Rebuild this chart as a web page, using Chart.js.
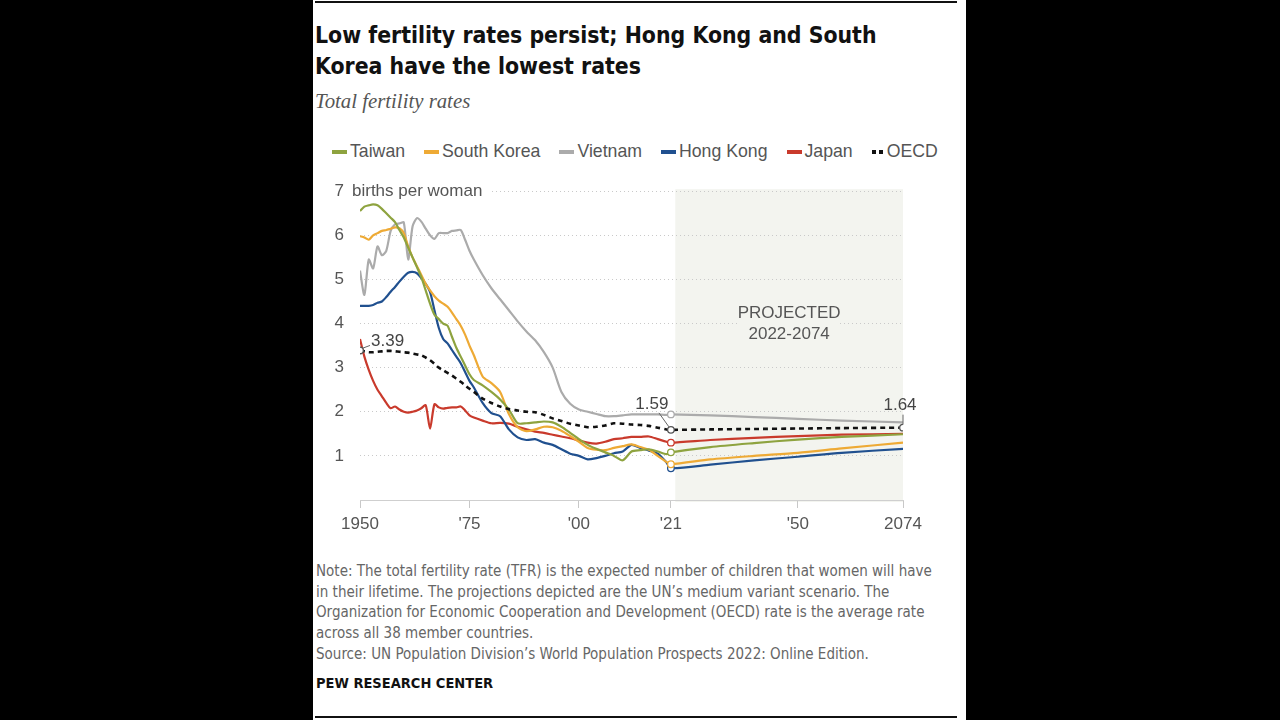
<!DOCTYPE html>
<html>
<head>
<meta charset="utf-8">
<script src="https://cdn.jsdelivr.net/npm/chart.js@4.4.1/dist/chart.umd.min.js"></script>
<style>
  html, body { margin: 0; padding: 0; background: #000; }
  body { width: 1280px; height: 720px; position: relative; overflow: hidden; font-family: "Liberation Sans", Arial, sans-serif; }
  #panel { position: absolute; left: 313px; top: 0; width: 653px; height: 720px; background: #fff; }
  .rule { position: absolute; left: 2px; width: 642px; height: 2px; background: #111; }
  #title { position: absolute; left: 2px; top: 20px; width: 640px; font-family: "DejaVu Sans Condensed", sans-serif; font-weight: bold; font-size: 22.8px; line-height: 31px; color: #111; }
  #subtitle { position: absolute; left: 2px; top: 89px; font-family: "Liberation Serif", "DejaVu Serif", serif; font-style: italic; font-size: 20.8px; color: #555; }
  #legend { position: absolute; left: 19px; top: 141px; display: flex; gap: 19px; font-size: 17.7px; color: #555; }
  .item { display: flex; align-items: center; }
  .sw { width: 15px; height: 4px; margin-right: 3px; }
  .dots { display: flex; gap: 3px; margin-right: 4px; }
  .dots span { width: 4px; height: 4px; background: #111; display: block; }
  #chartBox { position: absolute; left: 2px; top: 165px; width: 645px; height: 382px; }
  #note { position: absolute; left: 3px; top: 561px; width: 628px; font-family: "DejaVu Sans Condensed", sans-serif; font-size: 15px; line-height: 20.7px; color: #666; }
  #pew { position: absolute; left: 3px; top: 675px; font-family: "DejaVu Sans Condensed", sans-serif; font-weight: bold; font-size: 14.5px; color: #111; }
</style>
</head>
<body>
<div id="panel">
  <div class="rule" style="top:1px"></div>
  <div id="title">Low fertility rates persist; Hong Kong and South<br>Korea have the lowest rates</div>
  <div id="subtitle">Total fertility rates</div>
  <div id="legend"></div>
  <div id="chartBox"><canvas id="tfrChart"></canvas></div>
  <div id="note">Note: The total fertility rate (TFR) is the expected number of children that women will have in their lifetime. The projections depicted are the UN’s medium variant scenario. The Organization for Economic Cooperation and Development (OECD) rate is the average rate across all 38 member countries.<br>Source: UN Population Division’s World Population Prospects 2022: Online Edition.</div>
  <div id="pew">PEW RESEARCH CENTER</div>
  <div class="rule" style="top:716px"></div>
</div>
<script>
// years: annual to 1976, every two years to 2020, then 2021 and projections
const years = [1950, 1951, 1952, 1953, 1954, 1955, 1956, 1957, 1958, 1959, 1960, 1961, 1962, 1963, 1964, 1965, 1966, 1967, 1968, 1969, 1970, 1971, 1972, 1973, 1974, 1975, 1976,
  1978, 1980, 1982, 1984, 1986, 1988, 1990, 1992, 1994, 1996, 1998, 2000, 2002, 2004, 2006, 2008, 2010, 2012, 2014, 2016, 2018, 2020,
  2021, 2030, 2040, 2050, 2060, 2074];

const taiwan = [6.55, 6.65, 6.68, 6.7, 6.68, 6.6, 6.5, 6.4, 6.3, 6.12, 5.95, 5.72, 5.5, 5.28, 5.05, 4.75, 4.45, 4.2, 4.1, 4.0, 3.95, 3.7, 3.45, 3.25, 3.05, 2.85, 2.72,
  2.6, 2.45, 2.28, 2.05, 1.74, 1.74, 1.76, 1.78, 1.76, 1.66, 1.52, 1.38, 1.25, 1.16, 1.08, 1.0, 0.9, 1.1, 1.13, 1.15, 1.1, 1.04,
  1.08, 1.2, 1.29, 1.37, 1.43, 1.49];
const southKorea = [5.98, 5.95, 5.9, 6.0, 6.05, 6.1, 6.12, 6.15, 6.18, 6.16, 6.05, 5.75, 5.5, 5.3, 5.1, 4.9, 4.75, 4.62, 4.52, 4.45, 4.38, 4.25, 4.1, 3.95, 3.75, 3.5, 3.28,
  2.8, 2.65, 2.45, 1.95, 1.65, 1.56, 1.6, 1.66, 1.65, 1.57, 1.45, 1.32, 1.18, 1.14, 1.13, 1.18, 1.22, 1.26, 1.2, 1.14, 1.0, 0.86,
  0.81, 0.92, 1.0, 1.07, 1.17, 1.3];
const vietnam = [5.2, 4.65, 5.45, 5.25, 5.75, 5.55, 5.65, 6.1, 6.25, 6.27, 6.29, 5.45, 6.2, 6.39, 6.31, 6.15, 6.0, 5.92, 6.05, 6.05, 6.05, 6.1, 6.11, 6.12, 5.9, 5.65, 5.45,
  5.1, 4.8, 4.55, 4.3, 4.05, 3.82, 3.62, 3.35, 3.0, 2.45, 2.18, 2.05, 2.0, 1.95, 1.9, 1.9, 1.92, 1.94, 1.94, 1.94, 1.94, 1.93,
  1.94, 1.92, 1.88, 1.84, 1.8, 1.76];
const hongKong = [4.4, 4.4, 4.4, 4.42, 4.47, 4.5, 4.6, 4.72, 4.83, 4.95, 5.06, 5.15, 5.17, 5.14, 5.03, 4.9, 4.72, 4.3, 3.9, 3.65, 3.55, 3.4, 3.25, 3.1, 2.9, 2.7, 2.55,
  2.2, 1.97, 1.9, 1.6, 1.42, 1.36, 1.38, 1.3, 1.25, 1.15, 1.05, 1.0, 0.92, 0.95, 1.0, 1.06, 1.1, 1.25, 1.18, 1.12, 1.05, 0.85,
  0.72, 0.8, 0.9, 0.98, 1.07, 1.16];
const japan = [3.65, 3.25, 2.95, 2.7, 2.5, 2.35, 2.2, 2.08, 2.12, 2.05, 2.0, 1.98, 2.0, 2.03, 2.08, 2.15, 1.62, 2.17, 2.1, 2.07, 2.09, 2.1, 2.1, 2.12, 2.03, 1.92, 1.87,
  1.8, 1.74, 1.75, 1.73, 1.66, 1.6, 1.55, 1.52, 1.48, 1.44, 1.4, 1.35, 1.3, 1.28, 1.32, 1.38, 1.4, 1.43, 1.43, 1.44, 1.38, 1.32,
  1.3, 1.36, 1.41, 1.45, 1.48, 1.5];
const oecd = [3.39, 3.37, 3.35, 3.35, 3.36, 3.37, 3.38, 3.38, 3.37, 3.36, 3.35, 3.34, 3.32, 3.3, 3.28, 3.23, 3.17, 3.09, 3.0, 2.94, 2.88, 2.82, 2.75, 2.68, 2.6, 2.52, 2.45,
  2.3, 2.2, 2.12, 2.06, 2.03, 2.0, 1.99, 1.93, 1.85, 1.79, 1.73, 1.69, 1.65, 1.66, 1.69, 1.74, 1.73, 1.71, 1.7, 1.68, 1.64, 1.6,
  1.59, 1.6, 1.61, 1.62, 1.63, 1.64];

const seriesNames = ["Taiwan", "South Korea", "Vietnam", "Hong Kong", "Japan", "OECD"];
const seriesColors = ["#8ea33f", "#eeaa35", "#ababab", "#20508f", "#c93a2c", "#111111"];
const xTickValues = [1950, 1975, 2000, 2021, 2050, 2074];
const xTickLabels = ["1950", "'75", "'00", "'21", "'50", "2074"];
const yTickValues = [1, 2, 3, 4, 5, 6, 7];
const projectionStart = 2022;
const projectionEnd = 2074;
const lastActualYear = 2021;

const seriesValues = [taiwan, southKorea, vietnam, hongKong, japan, oecd];
const idxActual = years.indexOf(lastActualYear);

// legend
const legend = document.getElementById('legend');
seriesNames.forEach(function (name, i) {
  const item = document.createElement('div');
  item.className = 'item';
  if (name === 'OECD') {
    item.innerHTML = '<div class="dots"><span></span><span></span></div>' + name;
  } else {
    item.innerHTML = '<div class="sw" style="background:' + seriesColors[i] + '"></div>' + name;
  }
  legend.appendChild(item);
});

const datasets = seriesNames.map(function (name, i) {
  const isOecd = name === 'OECD';
  return {
    label: name,
    data: years.map(function (y, k) { return { x: y, y: seriesValues[i][k] }; }),
    borderColor: seriesColors[i],
    borderWidth: isOecd ? 2.6 : 2.2,
    borderDash: isOecd ? [5, 4] : [],
    tension: 0.25,
    pointRadius: function (c) {
      if (c.dataIndex === idxActual) return 3.3;
      if (isOecd && (c.dataIndex === 0 || c.dataIndex === years.length - 1)) return 3.3;
      return 0;
    },
    pointBackgroundColor: '#fff',
    pointBorderColor: isOecd ? '#555' : seriesColors[i],
    pointBorderWidth: 1.3,
    order: isOecd ? 0 : i + 1
  };
});

const numFont = '17px "Liberation Sans", Arial, sans-serif';

const decor = {
  id: 'decor',
  beforeDraw: function (chart) {
    const c = chart.ctx, x = chart.scales.x, a = chart.chartArea;
    c.save();
    c.fillStyle = '#f3f4ef';
    const x0 = x.getPixelForValue(projectionStart), x1 = x.getPixelForValue(projectionEnd);
    c.fillRect(x0, a.top - 2, x1 - x0, a.bottom - a.top + 4);
    c.restore();
  },
  afterDraw: function (chart) {
    const c = chart.ctx, x = chart.scales.x, y = chart.scales.y;
    c.save();
    // unit label after the top tick
    const y7 = y.getPixelForValue(7);
    c.fillStyle = '#fff';
    c.fillRect(x.left - 10, y7 - 8, 142, 16);
    c.font = numFont;
    c.fillStyle = '#555';
    c.textBaseline = 'middle';
    c.textAlign = 'left';
    c.fillText('births per woman', x.left - 8, y7);

    // projected label
    const xm = (x.getPixelForValue(projectionStart) + x.getPixelForValue(projectionEnd)) / 2;
    const yp = y.getPixelForValue(4);
    c.fillStyle = '#f3f4ef';
    c.fillRect(xm - 50, yp - 22, 100, 44);
    c.fillStyle = '#555';
    c.textAlign = 'center';
    c.fillText('PROJECTED', xm, yp - 10);
    c.fillText('2022-2074', xm, yp + 11);

    // OECD value callouts
    const pts = [
      { i: 0, dx: 11, dy: -9, align: 'left' },
      { i: idxActual, dx: -19, dy: -26, align: 'center' },
      { i: years.length - 1, dx: -3, dy: -22, align: 'center' }
    ];
    c.strokeStyle = '#666';
    c.lineWidth = 1;
    pts.forEach(function (p) {
      const px = x.getPixelForValue(years[p.i]);
      const py = y.getPixelForValue(oecd[p.i]);
      c.beginPath();
      if (p.align === 'left') {
        c.moveTo(px + 2, py - 2); c.lineTo(px + 10, py - 5);
      } else {
        c.moveTo(px + (p.dx < -5 ? -2 : 0), py - 3); c.lineTo(px + p.dx + (p.dx < -5 ? 7 : 3), py + p.dy + 9);
      }
      c.stroke();
      c.textAlign = p.align;
      c.fillStyle = '#444';
      c.fillText(oecd[p.i].toFixed(2), px + p.dx, py + p.dy);
    });
    c.restore();
  }
};

const ctx = document.getElementById('tfrChart').getContext('2d');
const tfrChart = new Chart(ctx, {
  type: 'line',
  data: { datasets: datasets },
  options: {
    responsive: true,
    maintainAspectRatio: false,
    animation: false,
    events: [],
    layout: { padding: { top: 5, right: 57, left: 0, bottom: 0 } },
    plugins: { legend: { display: false }, tooltip: { enabled: false } },
    scales: {
      x: {
        type: 'linear',
        min: 1950,
        max: 2074,
        afterFit: function (s) { s.height = 47; },
        afterBuildTicks: function (s) { s.ticks = xTickValues.map(function (v) { return { value: v }; }); },
        ticks: {
          autoSkip: false,
          maxRotation: 0,
          padding: 6,
          color: '#555',
          font: { family: '"Liberation Sans", Arial, sans-serif', size: 17 },
          callback: function (v) { return xTickLabels[xTickValues.indexOf(v)]; }
        },
        grid: { drawOnChartArea: false, drawTicks: true, tickLength: 8, color: '#c8c8c8' },
        border: { display: true, color: '#cfcfcf' }
      },
      y: {
        min: 0,
        max: 7,
        afterFit: function (s) { s.width = 45; },
        afterBuildTicks: function (s) { s.ticks = yTickValues.map(function (v) { return { value: v }; }); },
        ticks: {
          padding: 16,
          color: '#555',
          font: { family: '"Liberation Sans", Arial, sans-serif', size: 17 }
        },
        grid: { drawTicks: false, color: '#c9c9c9', lineWidth: 1 },
        border: { display: false, dash: [1, 3] }
      }
    }
  },
  plugins: [decor]
});
</script>
</body>
</html>
